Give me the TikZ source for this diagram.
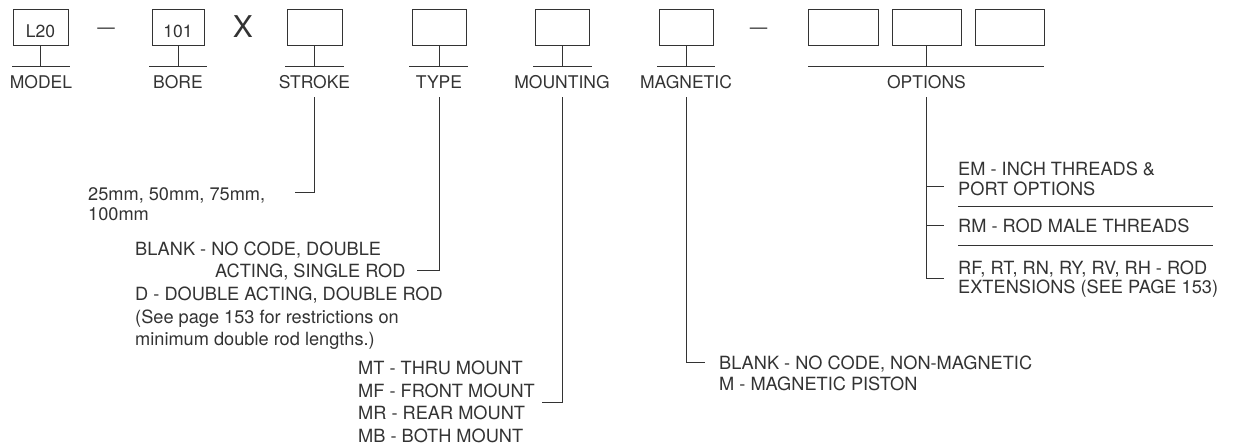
\documentclass[tikz,border=0pt]{standalone}
\usepackage{fontspec}
\setmainfont{TeX Gyre Heros}
\begin{document}
\begin{tikzpicture}[x=1pt,y=-1pt,
  every node/.style={text=black!80, font=\fontsize{17.5}{21}\selectfont, inner sep=0pt},
  codebox/.style={draw=black!80, line width=1pt, minimum height=36pt, text height=20pt, text depth=0pt},
  lab/.style={anchor=base, text depth=0pt},
  desc/.style={anchor=base west, font=\fontsize{18.2}{22}\selectfont},
  ln/.style={draw=black!80, line width=1pt}]
\useasboundingbox (0,0) rectangle (1233,445);

% code boxes
\node[codebox, minimum width=55pt] (bm) at (40.5,27) {L20};
\node[codebox, minimum width=52pt] (bb) at (178,27) {101};
\node[codebox, minimum width=55pt] (bs) at (314.5,27) {};
\node[codebox, minimum width=54pt] (bt) at (439,27) {};
\node[codebox, minimum width=54pt] (bmo) at (562,27) {};
\node[codebox, minimum width=54pt] (bma) at (686,27) {};
\node[codebox, minimum width=70pt] (bo1) at (843,27) {};
\node[codebox, minimum width=69pt] (bo2) at (926.5,27) {};
\node[codebox, minimum width=69pt] (bo3) at (1009.5,27) {};

% separators between boxes
\node[anchor=base] (d1) at (106,33.8) {—};
\node[anchor=base, font=\fontsize{30}{34}\selectfont] (xx) at (243,37.3) {X};
\node[anchor=base] (d2) at (758.5,33.8) {—};

% horizontal bars under boxes
\draw[ln] (12,66) -- (70,66);
\draw[ln] (149,66) -- (207,66);
\draw[ln] (285,66) -- (344,66);
\draw[ln] (409,66) -- (468,66);
\draw[ln] (533,66) -- (592,66);
\draw[ln] (657,66) -- (715,66);
\draw[ln] (808,66) -- (1044,66);

% stems
\draw[ln] (bm.south) -- (bm.south |- 0,66);
\draw[ln] (bb.south) -- (bb.south |- 0,66);
\draw[ln] (bs.south) -- (bs.south |- 0,66);
\draw[ln] (bt.south) -- (bt.south |- 0,66);
\draw[ln] (bmo.south) -- (bmo.south |- 0,66);
\draw[ln] (bma.south) -- (bma.south |- 0,66);
\draw[ln] (bo2.south) -- (bo2.south |- 0,66);

% labels
\node[lab] (lm) at (41,88) {MODEL};
\node[lab] (lb) at (178,88) {BORE};
\node[lab] (ls) at (314.5,88) {STROKE};
\node[lab] (lt) at (439,88) {TYPE};
\node[lab] (lmo) at (562,88) {MOUNTING};
\node[lab] (lma) at (686,88) {MAGNETIC};
\node[lab] (lo) at (926.5,88) {OPTIONS};

% stroke descriptions
\node[desc] (s1) at (88,200) {25mm, 50mm, 75mm,};
\node[desc] (s2) at (88,220) {100mm};
\coordinate (sEnd) at (295,192);
\draw[ln] ([yshift=-9pt]ls.south) |- (sEnd);

% type descriptions
\node[desc] (t1) at (135,255) {BLANK - NO CODE, DOUBLE};
\node[desc] (t2) at (215,277) {ACTING, SINGLE ROD};
\node[desc] (t3) at (135,300) {D - DOUBLE ACTING, DOUBLE ROD};
\node[desc] (t4) at (135,323) {(See page 153 for restrictions on};
\node[desc] (t5) at (135,345) {minimum double rod lengths.)};
\coordinate (tEnd) at (417,270);
\draw[ln] ([yshift=-9pt]lt.south) |- (tEnd);

% mounting descriptions
\node[desc] (m1) at (358,374.5) {MT - THRU MOUNT};
\node[desc] (m2) at (358,397) {MF - FRONT MOUNT};
\node[desc] (m3) at (358,419.5) {MR - REAR MOUNT};
\node[desc] (m4) at (358,442) {MB - BOTH MOUNT};
\coordinate (mEnd) at (542,402);
\draw[ln] ([yshift=-9pt]lmo.south) |- (mEnd);

% magnetic descriptions
\node[desc] (g1) at (719,369.5) {BLANK - NO CODE, NON-MAGNETIC};
\node[desc] (g2) at (719,390) {M - MAGNETIC PISTON};
\coordinate (gEnd) at (705,362);
\draw[ln] ([yshift=-9pt]lma.south) |- (gEnd);

% options descriptions
\node[desc] (o1) at (958,175) {EM - INCH THREADS \&};
\node[desc] (o2) at (958,195) {PORT OPTIONS};
\node[desc] (o3) at (958,232.5) {RM - ROD MALE THREADS};
\node[desc] (o4) at (958,274) {RF, RT, RN, RY, RV, RH - ROD};
\node[desc] (o5) at (958,293.5) {EXTENSIONS (SEE PAGE 153)};
\draw[ln] (958,206) -- (1213,206);
\draw[ln] (958,245) -- (1213,245);
\coordinate (oT1) at (944,186);
\coordinate (oT2) at (944,225);
\coordinate (oEnd) at (944,278);
\draw[ln] ([yshift=-9pt]lo.south) |- (oEnd);
\draw[ln] (oT1 -| lo.south) -- (oT1);
\draw[ln] (oT2 -| lo.south) -- (oT2);
\end{tikzpicture}
\end{document}
